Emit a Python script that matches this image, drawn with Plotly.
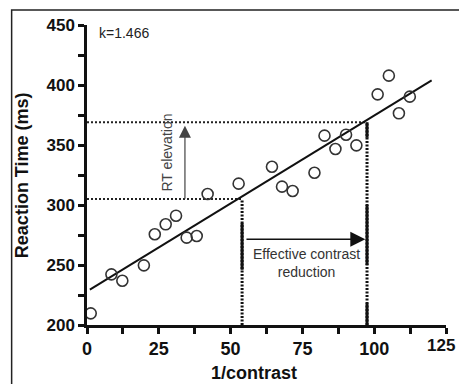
import plotly.graph_objects as go

# ---- data ----
inv_contrast = [1.3, 8.5, 12.3, 19.8, 23.6, 27.4, 31.0, 34.7, 38.2, 42.0, 52.8,
                64.4, 67.9, 71.6, 79.2, 82.7, 86.5, 90.2, 93.8, 101.2, 105.1, 108.6, 112.4]
rt_ms = [209.7, 242.2, 236.9, 249.7, 275.6, 283.9, 291.1, 272.8, 274.2, 309.2, 317.8,
         331.9, 315.3, 311.7, 326.9, 357.8, 346.7, 358.6, 349.7, 392.2, 407.8, 376.4, 390.3]

k_slope = 1.466
intercept = 228.0
fit_range = [1.0, 120.0]

contrast_low, contrast_high = 54.0, 97.5
rt_low, rt_high = 305.0, 369.0
bar_low = [246.0, 285.0]      # solid bar at start of horizontal arrow
bar_high = [250.0, 300.0]     # solid bar at end of horizontal arrow
arrow_y = 271.4
rt_arrow_x = 34.1

x_ticks = [0, 25, 50, 75, 100, 125]
x_ticklabels = ["0", "25", "50", "75", "100", "125"]
y_ticks = [200, 250, 300, 350, 400, 450]

FONT = "Liberation Sans, Arial, sans-serif"
INK = "#111111"

fig = go.Figure()

# dotted reference lines
fig.add_trace(go.Scatter(x=[0, contrast_low], y=[rt_low, rt_low], mode="lines",
                         line=dict(color="#222", width=2, dash="2px,2px"), hoverinfo="skip"))
fig.add_trace(go.Scatter(x=[0, contrast_high], y=[rt_high, rt_high], mode="lines",
                         line=dict(color="#222", width=2, dash="2px,2px"), hoverinfo="skip"))
fig.add_trace(go.Scatter(x=[contrast_low, contrast_low], y=[200, rt_low], mode="lines",
                         line=dict(color=INK, width=3, dash="2px,1.5px"), hoverinfo="skip"))
fig.add_trace(go.Scatter(x=[contrast_high, contrast_high], y=[200, rt_high], mode="lines",
                         line=dict(color=INK, width=3, dash="2px,1.5px"), hoverinfo="skip"))
# solid bars
fig.add_trace(go.Scatter(x=[contrast_low, contrast_low], y=bar_low, mode="lines",
                         line=dict(color=INK, width=3), hoverinfo="skip"))
fig.add_trace(go.Scatter(x=[contrast_high, contrast_high], y=bar_high, mode="lines",
                         line=dict(color=INK, width=3), hoverinfo="skip"))
fig.add_trace(go.Scatter(x=[contrast_high, contrast_high], y=[200, 218], mode="lines",
                         line=dict(color=INK, width=3), hoverinfo="skip", cliponaxis=False))
fig.add_trace(go.Scatter(x=[contrast_high, contrast_high], y=[356, rt_high], mode="lines",
                         line=dict(color=INK, width=3), hoverinfo="skip"))

# fit line
fig.add_trace(go.Scatter(x=fit_range, y=[intercept + k_slope * v for v in fit_range],
                         mode="lines", line=dict(color=INK, width=2), hoverinfo="skip",
                         cliponaxis=False))

# data points
fig.add_trace(go.Scatter(x=inv_contrast, y=rt_ms, mode="markers",
                         marker=dict(symbol="circle-open", size=11, color="#333",
                                     line=dict(width=1.6, color="#333")),
                         cliponaxis=False))

L, R, T, B = 87.3, 13.0, 25.0, 59.0
W, H = 459, 384
pw, ph = W - L - R, H - T - B


def px_x(v):
    return (v - L) / pw


def px_y(v):
    return (H - B - v) / ph


annotations = [
    dict(x=contrast_high - 0.6, y=arrow_y, ax=contrast_low + 1.0, ay=arrow_y,
         xref="x", yref="y", axref="x", ayref="y", text="", showarrow=True,
         arrowhead=2, arrowsize=2, arrowwidth=1.5, arrowcolor=INK, standoff=0),
    dict(x=rt_arrow_x, y=rt_high - 3, ax=rt_arrow_x, ay=rt_low - 1,
         xref="x", yref="y", axref="x", ayref="y", text="", showarrow=True,
         arrowhead=2, arrowsize=2, arrowwidth=1.2, arrowcolor="#444", standoff=0),
    dict(x=3.4, y=443.3, xref="x", yref="y", text="k=1.466", showarrow=False,
         xanchor="left", yanchor="middle", font=dict(family=FONT, size=14, color="#222")),
    dict(x=28.0, y=344, xref="x", yref="y", text="RT elevation", showarrow=False,
         textangle=-90, xanchor="center", yanchor="middle",
         font=dict(family=FONT, size=14, color="#444")),
    dict(x=76.3, y=252, xref="x", yref="y", text="Effective contrast<br>reduction",
         showarrow=False, xanchor="center", yanchor="middle",
         font=dict(family=FONT, size=14, color="#333")),
    # last x tick label (plotly drops it at the paper edge)
    dict(x=px_x(457), y=0, xref="paper", yref="paper",
         text="<b>" + x_ticklabels[-1] + "</b>",
         showarrow=False, xanchor="right", yanchor="top", yshift=-9,
         font=dict(family=FONT, size=17, color=INK)),
    dict(x=px_x(22.5), y=px_y(175), xref="paper", yref="paper",
         text="<b>Reaction Time (ms)</b>",
         showarrow=False, textangle=-90, xanchor="center", yanchor="middle",
         font=dict(family=FONT, size=18, color=INK)),
    dict(x=px_x(254), y=px_y(373), xref="paper", yref="paper", text="<b>1/contrast</b>",
         showarrow=False, xanchor="center", yanchor="middle",
         font=dict(family=FONT, size=18, color=INK)),
]

fig.update_layout(
    width=W, height=H,
    margin=dict(l=L, r=R, t=T, b=B, pad=0),
    paper_bgcolor="white", plot_bgcolor="white",
    showlegend=False,
    annotations=annotations,
    shapes=[dict(type="rect", xref="paper", yref="paper",
                 x0=px_x(12), x1=px_x(475), y0=px_y(400), y1=px_y(10),
                 line=dict(color="#222", width=1.5), layer="below")],
    xaxis=dict(range=[0, 125], tickvals=x_ticks,
               ticktext=x_ticklabels[:-1] + [""], showgrid=False, zeroline=False,
               showline=True, linecolor=INK, linewidth=2.5,
               ticks="outside", ticklen=6, tickwidth=2.5, tickcolor=INK,
               minor=dict(dtick=12.5, tick0=0, ticks="outside", ticklen=6,
                          tickwidth=2.5, tickcolor=INK, showgrid=False),
               tickfont=dict(family=FONT, size=18, color=INK, weight="bold")),
    yaxis=dict(range=[200, 450], tickvals=y_ticks, showgrid=False, zeroline=False,
               showline=True, linecolor=INK, linewidth=2.5,
               ticks="outside", ticklen=6, tickwidth=2.5, tickcolor=INK,
               minor=dict(dtick=25, tick0=200, ticks="outside", ticklen=6,
                          tickwidth=2.5, tickcolor=INK, showgrid=False),
               tickfont=dict(family=FONT, size=17, color=INK, weight="bold")),
)

fig.write_html("out.html")
